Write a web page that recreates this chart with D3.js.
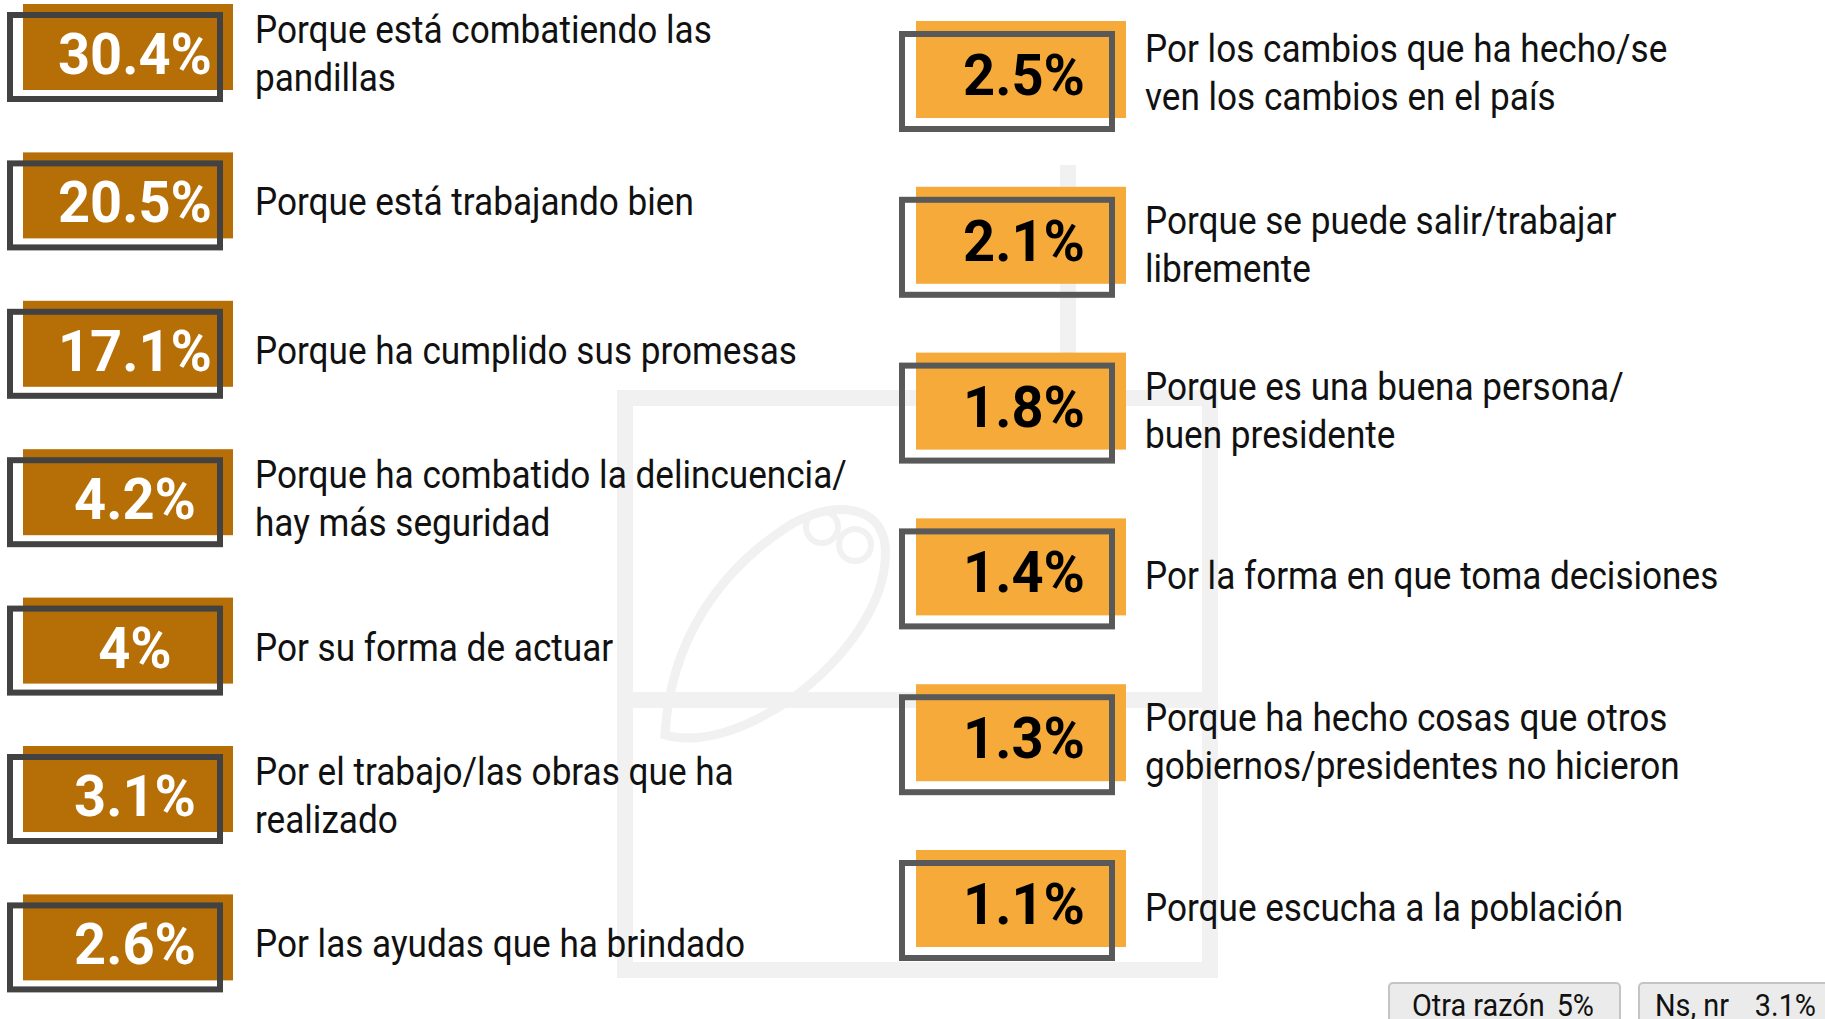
<!DOCTYPE html>
<html>
<head>
<meta charset="utf-8">
<script src="https://cdn.jsdelivr.net/npm/d3@7"></script>
<style>
  html, body { margin: 0; padding: 0; background: #fff; }
  svg { display: block; }
  .lbl { font-family: "Roboto", "DejaVu Sans Condensed", sans-serif; fill: #111; }
  .val { font-family: "Roboto", "DejaVu Sans Condensed", sans-serif; font-weight: bold; }
</style>
</head>
<body>
<div id="chart"></div>
<script>
// datos: razones (columna izquierda)
const leftReasons = [
  ["Porque está combatiendo las", "pandillas"],
  ["Porque está trabajando bien"],
  ["Porque ha cumplido sus promesas"],
  ["Porque ha combatido la delincuencia/", "hay más seguridad"],
  ["Por su forma de actuar"],
  ["Por el trabajo/las obras que ha", "realizado"],
  ["Por las ayudas que ha brindado"]
];
const leftValues = [30.4, 20.5, 17.1, 4.2, 4, 3.1, 2.6];

// columna derecha
const rightReasons = [
  ["Por los cambios que ha hecho/se", "ven los cambios en el país"],
  ["Porque se puede salir/trabajar", "libremente"],
  ["Porque es una buena persona/", "buen presidente"],
  ["Por la forma en que toma decisiones"],
  ["Porque ha hecho cosas que otros", "gobiernos/presidentes no hicieron"],
  ["Porque escucha a la población"]
];
const rightValues = [2.5, 2.1, 1.8, 1.4, 1.3, 1.1];

// otros
const otherLabels = ["Otra razón", "Ns, nr"];
const otherValues = [5, 3.1];

const W = 1825, H = 1019;
const fmt = v => String(v) + "%";

const svg = d3.select("#chart").append("svg")
  .attr("width", W).attr("height", H);

// la fuente original es condensada: medimos y comprimimos en horizontal
function measure(txt, cls, size) {
  const t = svg.append("text").attr("class", cls).attr("font-size", size).text(txt);
  const w = t.node().getComputedTextLength();
  t.remove();
  return w;
}
const LBL_SIZE = 39, VAL_SIZE = 58, OTH_SIZE = 32;
const sxL = 592 / measure("Porque ha combatido la delincuencia/", "lbl", LBL_SIZE);
const sxV = 154 / measure("30.4%", "val", VAL_SIZE);

// marca de agua (logo tenue al fondo)
const wm = svg.append("g").attr("fill", "none").attr("stroke", "#f1f1f1").attr("stroke-width", 16);
wm.append("rect").attr("x", 625).attr("y", 398).attr("width", 585).attr("height", 572);
wm.append("line").attr("x1", 1068).attr("y1", 165).attr("x2", 1068).attr("y2", 398);
wm.append("line").attr("x1", 632).attr("y1", 700).attr("x2", 1202).attr("y2", 700);
wm.append("path")
  .attr("stroke-width", 9)
  .attr("d", "M665,735 C670,640 720,570 790,525 C835,500 880,505 885,545 C890,600 845,660 790,700 C745,730 700,745 665,735 Z");
wm.append("circle").attr("cx", 822).attr("cy", 527).attr("r", 16).attr("stroke-width", 6);
wm.append("circle").attr("cx", 855).attr("cy", 545).attr("r", 16).attr("stroke-width", 6);

function drawColumn(cfg) {
  const y = d3.scaleBand()
    .domain(d3.range(cfg.values.length))
    .range([cfg.top, cfg.top + cfg.step * cfg.values.length])
    .paddingInner(0).paddingOuter(0);

  const rows = svg.append("g").selectAll("g")
    .data(cfg.values.map((v, i) => ({ v, lines: cfg.reasons[i], i })))
    .join("g")
    .attr("transform", d => `translate(0,${y(d.i)})`);

  rows.append("rect")
    .attr("x", cfg.fillX).attr("y", 0)
    .attr("width", cfg.boxW).attr("height", cfg.fillH)
    .attr("fill", cfg.fill);

  rows.append("rect")
    .attr("x", cfg.fillX - cfg.dx).attr("y", cfg.dy)
    .attr("width", cfg.boxW).attr("height", cfg.fillH - 2)
    .attr("fill", "none")
    .attr("stroke", cfg.stroke)
    .attr("stroke-width", 6);

  rows.append("text")
    .attr("class", "val")
    .attr("transform", `scale(${sxV},1)`)
    .attr("x", cfg.valX / sxV).attr("y", cfg.valY)
    .attr("text-anchor", "middle")
    .attr("font-size", VAL_SIZE)
    .attr("fill", cfg.valColor)
    .text(d => fmt(d.v));

  rows.append("text")
    .attr("class", "lbl")
    .attr("font-size", LBL_SIZE)
    .attr("transform", `scale(${sxL},1)`)
    .attr("y", d => cfg.labelC(d.i) + 14 - (d.lines.length - 1) * 24)
    .selectAll("tspan")
    .data(d => d.lines)
    .join("tspan")
    .attr("x", cfg.labelX / sxL)
    .attr("dy", (t, j) => j === 0 ? 0 : 48)
    .text(t => t);
}

drawColumn({
  values: leftValues, reasons: leftReasons,
  top: 4, step: 148.4, fillX: 23, boxW: 210, fillH: 86, dx: 13, dy: 11,
  fill: "#b56f06", stroke: "#424242", valColor: "#fff",
  valX: 135, valY: 70, labelX: 255, labelC: () => 49
});

drawColumn({
  values: rightValues, reasons: rightReasons,
  top: 21, step: 165.8, fillX: 916, boxW: 210, fillH: 97, dx: 14, dy: 13,
  fill: "#f5aa3a", stroke: "#595959", valColor: "#000",
  valX: 1024, valY: 74, labelX: 1145, labelC: i => i === 0 ? 51 : 57
});

// cajas de "otros"
const ox = d3.scaleOrdinal().domain(otherLabels).range([1389, 1639]);
const ow = d3.scaleOrdinal().domain(otherLabels).range([231, 200]);
const others = svg.append("g").selectAll("g")
  .data(otherLabels.map((l, i) => ({ l, v: otherValues[i] })))
  .join("g")
  .attr("transform", d => `translate(${ox(d.l)},983)`);

others.append("rect")
  .attr("width", d => ow(d.l)).attr("height", 50)
  .attr("rx", 4)
  .attr("fill", "#ebebeb").attr("stroke", "#c4c4c4").attr("stroke-width", 2);

others.append("text")
  .attr("class", "lbl")
  .attr("font-size", OTH_SIZE)
  .attr("transform", `scale(${sxL},1)`)
  .attr("x", d => (d.l === "Otra razón" ? 23 : 16) / sxL).attr("y", 33)
  .text(d => d.l);

others.append("text")
  .attr("class", "lbl")
  .attr("font-size", OTH_SIZE)
  .attr("transform", `scale(${sxL},1)`)
  .attr("text-anchor", "end")
  .attr("x", d => (d.l === "Otra razón" ? 205 : 177) / sxL).attr("y", 33)
  .text(d => fmt(d.v));
</script>
</body>
</html>
